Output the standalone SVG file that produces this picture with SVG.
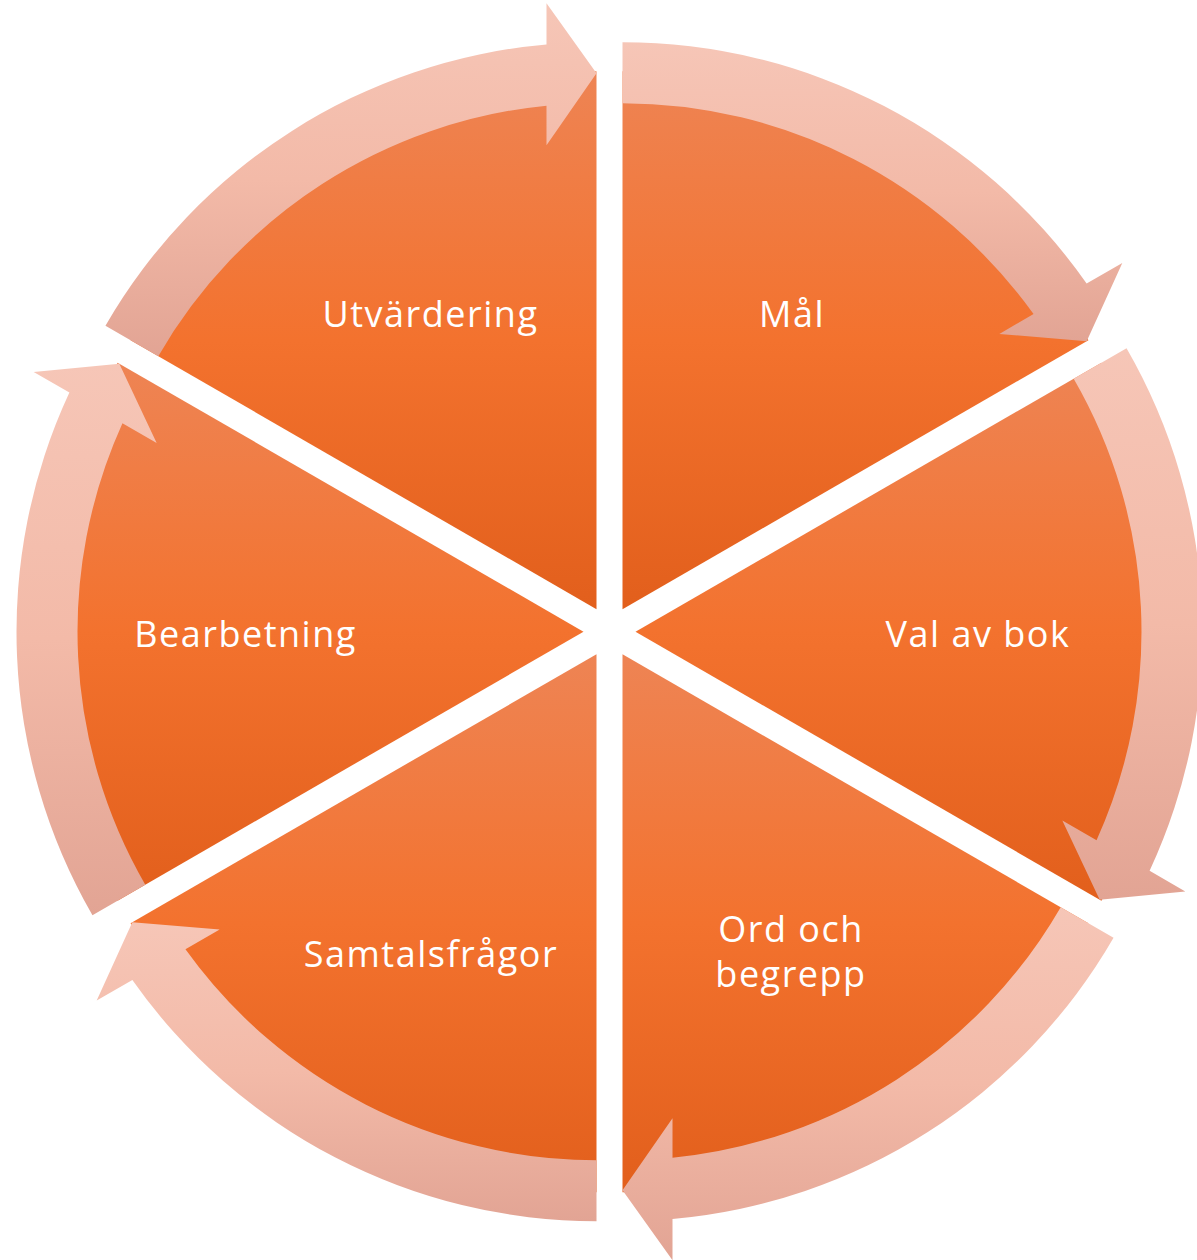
<svg xmlns="http://www.w3.org/2000/svg" width="1197" height="1260" viewBox="0 0 1197 1260">
  <defs>
    <linearGradient id="gPie" x1="0" y1="0" x2="0" y2="1">
      <stop offset="0" stop-color="#EE8454"/>
      <stop offset="0.5" stop-color="#F3722E"/>
      <stop offset="1" stop-color="#E25F1C"/>
    </linearGradient>
    <linearGradient id="gArrow" x1="0" y1="0" x2="0" y2="1">
      <stop offset="0" stop-color="#F6C6B7"/>
      <stop offset="0.5" stop-color="#F3BAA8"/>
      <stop offset="1" stop-color="#E2A494"/>
    </linearGradient>
  </defs>
  <style>
    .pie { fill: url(#gPie); }
    .arrow { fill: url(#gArrow); }
    .lbl { font-family: "Open Sans", "Noto Sans", "Liberation Sans", sans-serif; font-size: 36px; letter-spacing: 1.5px; fill: #FFFFFF; text-anchor: middle; }
  </style>
  <rect width="1197" height="1260" fill="#FFFFFF"/>

  <g id="node-mal">
    <path class="pie" d="M622.5,609.18 L622.5,71.18 A538,538 0 0 1 1088.42,340.18 Z"/>
  </g>
  <g id="node-val">
    <path class="pie" d="M635.5,631.7 L1101.42,362.7 A538,538 0 0 1 1101.42,900.7 Z"/>
  </g>
  <g id="node-ord">
    <path class="pie" d="M622.5,654.22 L1088.42,923.22 A538,538 0 0 1 622.5,1192.22 Z"/>
  </g>
  <g id="node-samtal">
    <path class="pie" d="M596.5,654.22 L596.5,1192.22 A538,538 0 0 1 130.58,923.22 Z"/>
  </g>
  <g id="node-bearb">
    <path class="pie" d="M583.5,631.7 L117.58,900.7 A538,538 0 0 1 117.58,362.7 Z"/>
  </g>
  <g id="node-utv">
    <path class="pie" d="M596.5,609.18 L130.58,340.18 A538,538 0 0 1 596.5,71.18 Z"/>
  </g>

  <g id="connectors">
    <path class="arrow" d="M622.5,42.18 A567,567 0 0 1 1086.62,283.48 L1122.31,262.88 L1086.69,341.18 L999.34,333.88 L1033.56,314.12 A506,506 0 0 0 622.5,103.18 Z"/>
    <path class="arrow" d="M1126.54,348.2 A567,567 0 0 1 1149.62,870.80 L1185.31,891.40 L1099.69,899.7 L1062.34,820.40 L1096.56,840.16 A506,506 0 0 0 1073.71,378.7 Z"/>
    <path class="arrow" d="M1113.54,937.72 A567,567 0 0 1 672.5,1219.01 L672.5,1260.22 L622.5,1190.22 L672.5,1118.22 L672.5,1157.74 A506,506 0 0 0 1060.71,907.22 Z"/>
    <path class="arrow" d="M596.5,1221.22 A567,567 0 0 1 132.38,979.92 L96.69,1000.52 L132.31,922.22 L219.66,929.52 L185.44,949.28 A506,506 0 0 0 596.5,1160.22 Z"/>
    <path class="arrow" d="M92.46,915.2 A567,567 0 0 1 69.38,392.60 L33.69,372.0 L119.31,363.7 L156.66,443.0 L122.44,423.24 A506,506 0 0 0 145.29,884.7 Z"/>
    <path class="arrow" d="M105.46,325.68 A567,567 0 0 1 546.5,44.39 L546.5,3.18 L596.5,73.18 L546.5,145.18 L546.5,105.66 A506,506 0 0 0 158.29,356.18 Z"/>
  </g>

  <g id="labels">
    <text class="lbl" x="792" y="327">Mål</text>
    <text class="lbl" x="978" y="647">Val av bok</text>
    <text class="lbl" x="791" y="942">Ord och</text>
    <text class="lbl" x="791" y="987">begrepp</text>
    <text class="lbl" x="431" y="967">Samtalsfrågor</text>
    <text class="lbl" x="245.5" y="647">Bearbetning</text>
    <text class="lbl" x="430.5" y="327">Utvärdering</text>
  </g>
</svg>
